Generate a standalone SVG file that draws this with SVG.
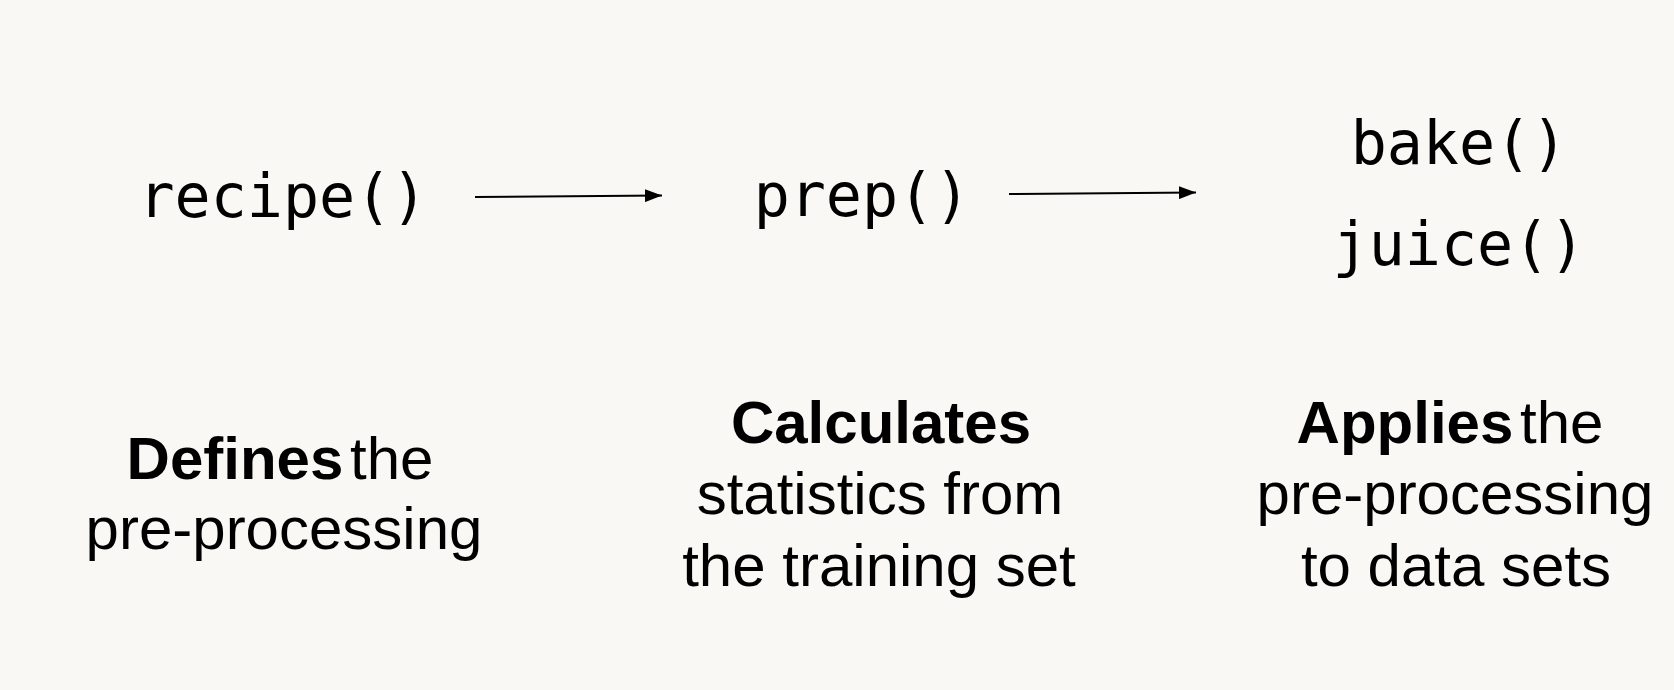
<svg xmlns="http://www.w3.org/2000/svg" width="1674" height="690" viewBox="0 0 1674 690">
  <style>
    .code { font-family: "DejaVu Sans Mono", "Liberation Mono", monospace; font-size: 60px; fill: #000; text-anchor: middle; }
    .desc { font-family: "Liberation Sans", Arial, sans-serif; font-size: 60px; fill: #000; text-anchor: middle; }
    .b { font-weight: bold; }
    .conn { stroke: #000; stroke-width: 2; fill: none; }
  </style>
  <defs>
    <marker id="arrow" markerWidth="17" markerHeight="13" refX="17" refY="6.5" orient="auto" markerUnits="userSpaceOnUse">
      <path d="M0,0 L17,6.5 L0,13 Z" fill="#000"/>
    </marker>
  </defs>
  <rect x="0" y="0" width="1674" height="690" fill="#F9F8F4"/>

  <g id="node-recipe">
    <text class="code" x="283" y="217">recipe()</text>
    <text class="desc" x="280" y="479" word-spacing="-10"><tspan class="b">Defines</tspan> the</text>
    <text class="desc" x="284" y="549">pre-processing</text>
  </g>

  <g id="node-prep">
    <text class="code" x="862" y="216">prep()</text>
    <text class="desc" x="881" y="443"><tspan class="b">Calculates</tspan></text>
    <text class="desc" x="880" y="514">statistics from</text>
    <text class="desc" x="879" y="586">the training set</text>
  </g>

  <g id="node-bake-juice">
    <text class="code" x="1459" y="164">bake()</text>
    <text class="code" x="1459" y="265">juice()</text>
    <text class="desc" x="1450" y="443" word-spacing="-10"><tspan class="b">Applies</tspan> the</text>
    <text class="desc" x="1455" y="514">pre-processing</text>
    <text class="desc" x="1456" y="586">to data sets</text>
  </g>

  <g id="connectors">
    <line class="conn" x1="475" y1="197" x2="662" y2="195.5" marker-end="url(#arrow)"/>
    <line class="conn" x1="1009" y1="194" x2="1196" y2="192.5" marker-end="url(#arrow)"/>
  </g>
</svg>
